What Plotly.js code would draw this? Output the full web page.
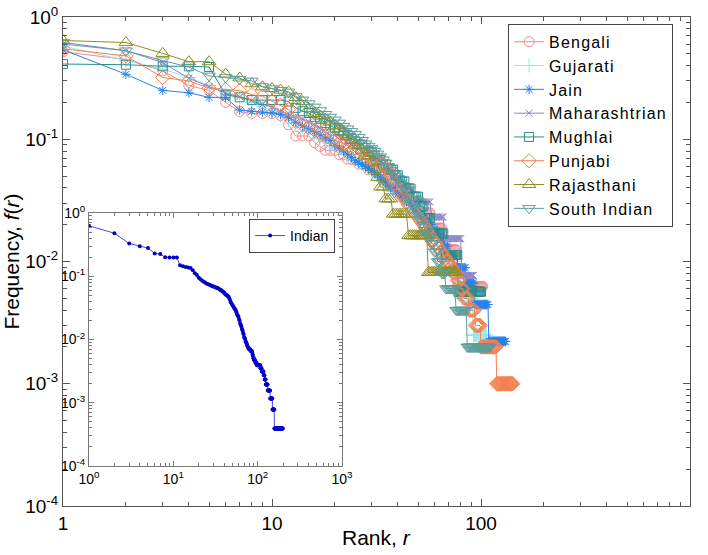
<!DOCTYPE html>
<html><head><meta charset="utf-8">
<script src="https://cdn.plot.ly/plotly-3.0.1.min.js"></script>
<style>html,body{margin:0;padding:0;background:#fff}
.legendtext{letter-spacing:1.2px}</style>
</head><body>
<div id="chart" style="width:708px;height:555px"></div>
<script>
// ---- Data: recipe counts per ingredient rank (frequency = count / total recipes) ----
const cuisineNames = ['Bengali','Gujarati','Jain','Maharashtrian','Mughlai','Punjabi','Rajasthani','South Indian'];
const cuisineTotals = [160, 400, 450, 130, 177, 1000, 123, 500];

const bengaliCounts = [83,72,58,44,40,32,27,26,26,26, 25,21,17,17,17,15,14,13,13,13, 12,12,11,11,11,10,10,10,9,9,
  9,9,8,8,8,8,7,7,7,7, 6,6,6,6,6,5,5,5,5,5, 5,4,4,4,4,4,4,3,3,3, 3,3,3,3,3,2,2,2,2,2,
  2,2,2,2,2,2,1,1,1,1, 1,1,1,1,1,1,1,1,1,1, 1,1,1,1,1,1,1,1,1,1, 1,1];
const gujaratiCounts = [232,176,150,128,110,98,88,80,74,68, 63,58,54,50,47,44,41,39,37,35, 33,31,30,28,27,26,25,24,23,22,
  21,20,19,18,17,17,16,15,15,14, 14,13,13,12,12,11,11,10,10,10, 9,9,9,8,8,8,7,7,7,7, 6,6,6,6,5,5,5,5,5,4,
  4,4,4,4,3,3,3,3,3,3, 2,2,2,2,2,2,2,2,2,2, 2,1,1,1,1,1,1,1,1,1, 1,1,1,1,1,1];
const jainCounts = [243,153,113,108,99,99,78,76,75,74, 72,68,62,58,55,52,49,46,44,40, 38,36,34,32,30,29,28,27,26,25,
  24,23,22,21,20,19,18,18,17,16, 16,15,15,14,14,13,13,12,12,11, 11,11,10,10,10,9,9,9,8,8, 8,8,7,7,7,6,6,6,6,5,
  5,5,5,5,4,4,4,4,4,4, 4,4,4,4,3,3,3,3,3,3, 3,3,2,2,2,2,2,2,2,2, 2,2,2,2,2,2,2,2,1,1,
  1,1,1,1,1,1,1,1,1,1, 1,1,1,1,1,1,1,1,1,1,1];
const maharashtrianCounts = [78,69,55,41,35,31,29,27,25,24, 22,21,20,19,18,17,16,15,14,14, 13,13,12,12,11,11,10,10,10,9,
  9,9,8,8,7,7,7,7,6,6, 6,6,5,5,5,5,5,4,4,4, 4,4,4,4,4,4,4,3,3,3, 3,3,3,3,3,3,2,2,2,2,
  2,2,2,2,2,2,2,2,2,2, 1,1,1,1,1,1,1,1,1,1, 1,1];
const mughlaiCounts = [73,72,70,70,69,41,39,37,37,37, 37,36,32,30,29,27,26,24,23,22, 21,20,19,18,17,16,16,15,14,14,
  13,12,12,11,11,10,10,10,9,9, 8,8,8,7,7,7,6,6,6,6, 5,5,5,4,4,4,4,3,3,3, 3,3,3,3,3,3,2,2,2,2,
  2,2,2,2,2,2,2,1,1,1, 1,1,1,1,1,1,1,1,1,1, 1,1,1,1,1,1,1,1,1,1];
const punjabiCounts = [550,480,320,300,262,255,250,232,225,205, 190,175,140,132,125,118,112,107,102,98, 94,91,88,86,85,84,80,76,73,70,
  68,66,64,62,58,55,51,47,43,40, 37,35,33,31,29,28,26,25,24,23, 22,21,20,19,18,17,16,15,15,14, 14,13,13,12,12,11,11,10,10,10,
  9,9,9,8,8,8,7,7,7,6, 6,6,5,5,5,5,5,4,4,4, 4,4,4,3,3,3,3,3,3,2, 2,2,2,2,2,2,2,2,2,2,
  2,2,2,2,2,2,2,2,1,1, 1,1,1,1,1,1,1,1,1,1, 1,1,1,1,1,1,1,1,1,1, 1,1];
const rajasthaniCounts = [79,76,62,53,53,42,39,35,33,32, 31,30,27,25,22,20,19,18,17,16, 15,14,13,12,11,11,10,9,9,8,
  7,6,5,5,4,4,4,3,3,3, 3,3,3,3,2,2,2,2,2,2, 2,2,2,2,2,1,1,1,1,1, 1,1,1,1,1,1,1,1,1,1, 1,1,1,1,1,1];
const southIndianCounts = [310,265,220,195,165,160,155,150,135,130, 126,122,112,105,98,92,86,80,76,72, 68,64,61,58,55,52,49,46,44,42,
  40,38,36,34,32,30,28,26,25,24, 22,21,20,19,17,16,15,14,13,12, 11,11,10,9,9,8,8,7,7,6, 6,5,5,5,4,4,4,3,3,3,
  3,3,3,3,3,2,2,2,2,2, 2,2,2,2,2,1,1,1,1,1, 1,1,1,1,1,1,1,1,1,1, 1,1,1,1,1,1,1,1,1,1];

const indianTotal = 2560;
const indianCounts = [1613,1229,845,768,717,589,576,512,510,508, 506,384,371,358,353,346,320,287,269,243,
  230,218,210,202,195,192,187,184,179,177, 174,171,167,166,161,156,154,148,146,141,
  136,131,128,125,123,115,108,100,95,90, 87,84,79,77,74,69,64,61,59,54,
  51,46,44,41,38,36,33,31,28,27, 26,24,23,22,21,20,19,19,18,18,
  18,17,17,17,17,16,15,14,13,13, 12,12,12,11,11,11,11,10,10,10,
  10,10,10,10,10,10,10,9,9,9, 9,8,8,8,8,8,8,7,7,7,
  6,6,6,6,5,5,5,5,5,5, 5,4,4,4,4,4,4,4,4,4,
  3,3,3,3,3,3,3,3,3,2, 2,2,2,2,2,2,2,1,1,1,
  1,1,1,1,1,1,1,1,1,1, 1,1,1,1,1,1,1,1,1,1, 1,1,1,1,1,1,1,1,1,1, 1,1,1,1,1,1,1,1];

const mainXTicks = [1, 10, 100, 1000];
const mainXTickText = ['1', '10', '100', '1000'];
const yTicks = [1e-4, 1e-3, 1e-2, 1e-1, 1];
const yTickText = ['10<sup>-4</sup>','10<sup>-3</sup>','10<sup>-2</sup>','10<sup>-1</sup>','10<sup>0</sup>'];
const insetXTicks = [1, 10, 100, 1000];
const insetXTickText = ['10<sup>0</sup>','10<sup>1</sup>','10<sup>2</sup>','10<sup>3</sup>'];

// ---- Styles ----
const cuisineCounts = [bengaliCounts, gujaratiCounts, jainCounts, maharashtrianCounts, mughlaiCounts, punjabiCounts, rajasthaniCounts, southIndianCounts];
const colors = ['#f08a8a','#8eeaea','#2a80ea','#8c86cc','#2a8c8c','#f5804f','#8e8e1e','#5a9c9c'];
const symbols = ['circle-open','cross-thin-open','asterisk-open','x-thin-open','square-open','diamond-open','triangle-up-open','triangle-down-open'];
const sizes = [10, 10, 8, 7, 9, 11, 12, 11];

const FONT = 'Liberation Sans, Arial, sans-serif';

function minorLogTicks(d0, d1) {
  const v = [];
  for (let d = d0; d < d1; d++) for (let k = 2; k < 10; k++) v.push(k * Math.pow(10, d));
  return v;
}

const traces = cuisineNames.map((name, i) => {
  const counts = cuisineCounts[i];
  return {
    type: 'scatter', mode: 'lines+markers', name: name,
    x: counts.map((c, j) => j + 1),
    y: counts.map(c => c / cuisineTotals[i]),
    xaxis: 'x', yaxis: 'y',
    line: {color: colors[i], width: 1},
    marker: {symbol: symbols[i], size: sizes[i], color: colors[i], line: {color: colors[i], width: 1}},
    legend: 'legend'
  };
});

traces.push({
  type: 'scatter', mode: 'lines+markers', name: 'Indian',
  x: indianCounts.map((c, j) => j + 1),
  y: indianCounts.map(c => c / indianTotal),
  xaxis: 'x2', yaxis: 'y2',
  line: {color: '#4848ee', width: 1},
  marker: {symbol: 'circle', size: 4, color: '#0000c8'},
  legend: 'legend2'
});

const axisCommon = {
  type: 'log', showgrid: false, zeroline: false, showline: true,
  linecolor: '#555', linewidth: 1, mirror: 'ticks', ticks: 'inside',
  tickcolor: '#555', tickwidth: 1
};

const layout = {
  width: 708, height: 555,
  margin: {l: 63, r: 18, t: 17, b: 49},
  paper_bgcolor: '#fff', plot_bgcolor: '#fff',
  font: {family: FONT, color: '#000'},
  showlegend: true,
  xaxis: Object.assign({}, axisCommon, {
    domain: [0, 1], range: [0, 3], anchor: 'y',
    tickmode: 'array', tickvals: mainXTicks, ticktext: mainXTickText, ticklen: 7,
    tickfont: {size: 19, family: FONT},
    minor: {tickmode: 'array', tickvals: minorLogTicks(0, 3), ticks: 'inside', ticklen: 4, tickcolor: '#555'},
    title: {text: ''}
  }),
  yaxis: Object.assign({}, axisCommon, {
    domain: [0, 1], range: [-4, 0], anchor: 'x',
    tickmode: 'array', tickvals: yTicks, ticktext: yTickText, ticklen: 7,
    tickfont: {size: 19, family: FONT},
    minor: {tickmode: 'array', tickvals: minorLogTicks(-4, 0), ticks: 'inside', ticklen: 4, tickcolor: '#555'},
    title: {text: 'Frequency, <i>f</i>(<i>r</i>)', font: {size: 21, family: FONT}, standoff: 6}
  }),
  xaxis2: Object.assign({}, axisCommon, {
    domain: [0.0415, 0.445], range: [0, 3], anchor: 'y2',
    linecolor: '#777', tickcolor: '#777',
    tickmode: 'array', tickvals: insetXTicks, ticktext: insetXTickText, ticklen: 5,
    tickfont: {size: 14, family: FONT},
    minor: {tickmode: 'array', tickvals: minorLogTicks(0, 3), ticks: 'inside', ticklen: 3, tickcolor: '#777'}
  }),
  yaxis2: Object.assign({}, axisCommon, {
    domain: [0.0818, 0.599], range: [-4, 0], anchor: 'x2',
    linecolor: '#777', tickcolor: '#777',
    tickmode: 'array', tickvals: yTicks, ticktext: yTickText, ticklen: 5,
    tickfont: {size: 14, family: FONT},
    minor: {tickmode: 'array', tickvals: minorLogTicks(-4, 0), ticks: 'inside', ticklen: 3, tickcolor: '#777'}
  }),
  annotations: [{
    text: 'Rank, <i>r</i>', xref: 'paper', yref: 'paper', x: 0.5, y: -0.064,
    xanchor: 'center', yanchor: 'middle', showarrow: false,
    font: {size: 21, family: FONT}
  }],
  legend: {
    x: 0.973, xanchor: 'right', y: 0.986, yanchor: 'top',
    bgcolor: '#fff', bordercolor: '#444', borderwidth: 1,
    font: {size: 16, family: FONT}, tracegroupgap: 0, itemwidth: 30
  },
  legend2: {
    x: 0.434, xanchor: 'right', y: 0.587, yanchor: 'top',
    bgcolor: '#fff', bordercolor: '#444', borderwidth: 1,
    font: {size: 14, family: FONT}
  }
};

Plotly.newPlot('chart', traces, layout, {displayModeBar: false, staticPlot: true});
</script>
</body></html>
